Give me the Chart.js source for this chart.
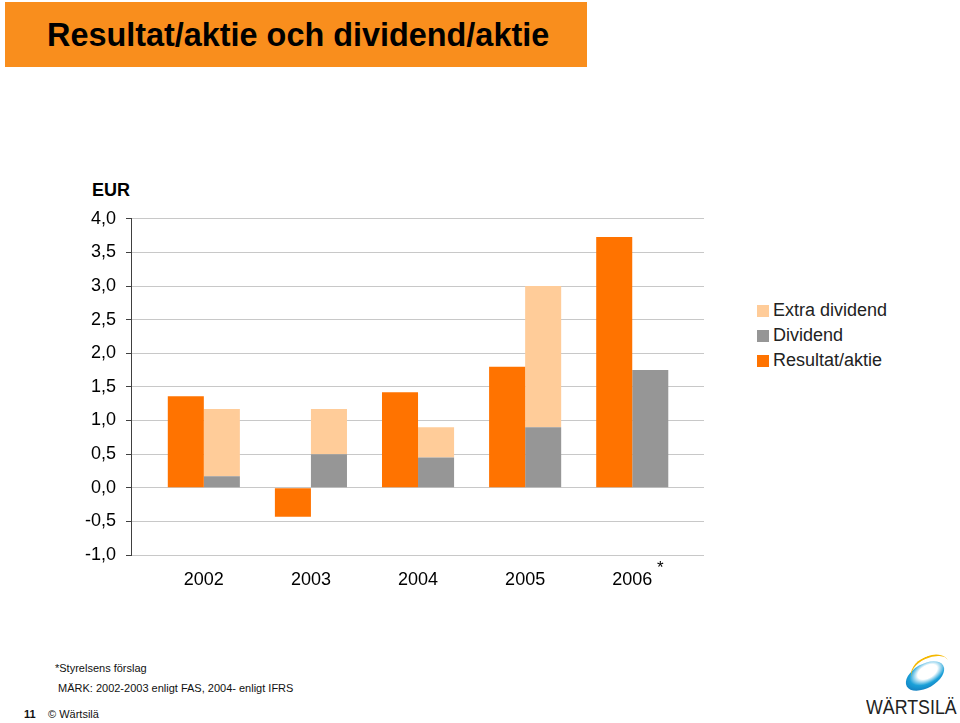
<!DOCTYPE html>
<html>
<head>
<meta charset="utf-8">
<script src="https://cdn.jsdelivr.net/npm/chart.js@4"></script>
<style>
  body { margin: 0; width: 960px; height: 723px; background: #fff; position: relative; overflow: hidden;
         font-family: "Liberation Sans", Arial, sans-serif; }
  .banner { position: absolute; left: 5px; top: 2px; width: 582px; height: 65px; background: #f98e1d; }
  .banner h1 { margin: 0; position: absolute; left: 42px; top: 15px; font-size: 32.4px; font-weight: bold; color: #000; }
  #wrap { position: absolute; left: 0; top: 198px; width: 720px; height: 400px; }
  .eur { position: absolute; left: 92px; top: 180px; font-size: 18px; font-weight: bold; }
  .star { position: absolute; left: 657px; top: 558px; font-size: 17px; }
  .legend { position: absolute; left: 757px; top: 300px; font-size: 18px; color: #222; }
  .legend div { height: 25px; line-height: 20px; }
  .legend span { display: inline-block; width: 12px; height: 12px; margin-right: 4px; vertical-align: -1px; }
  .note { position: absolute; font-size: 11px; color: #111; }
  .logo { position: absolute; left: 866px; top: 696px; font-size: 20px; color: #222;
          transform: scaleX(0.89); transform-origin: left top; }
  .swoosh { position: absolute; left: 904px; top: 664px; width: 42px; height: 24px; border-radius: 50%;
            background: radial-gradient(ellipse at 60% 40%, #fff 30%, #1aa0d8 55%, #0b5ea8 100%);
            transform: rotate(-30deg); }
  .swoosh2 { position: absolute; left: 910px; top: 656px; width: 40px; height: 24px; border-radius: 50%;
             border-top: 2px solid #f5b800; transform: rotate(-25deg); }
</style>
</head>
<body>
<div class="banner"><h1>Resultat/aktie och dividend/aktie</h1></div>
<div class="eur">EUR</div>
<div id="wrap"><canvas id="c" width="720" height="400"></canvas></div>
<div class="star">*</div>
<div class="legend" id="legend"></div>
<div class="note" style="left:55px; top:662px;">*Styrelsens förslag</div>
<div class="note" style="left:58px; top:682px;">MÄRK: 2002-2003 enligt FAS, 2004- enligt IFRS</div>
<div class="note" style="left:24px; top:708px; font-weight:bold;">11</div>
<div class="note" style="left:48px; top:708px;">© Wärtsilä</div>
<div class="swoosh"></div>
<div class="swoosh2"></div>
<div class="logo">WÄRTSILÄ</div>
<script>
const years = ['2002', '2003', '2004', '2005', '2006']
const resultat = [1.36, -0.43, 1.42, 1.80, 3.73]
const dividend = [0.17, 0.50, 0.45, 0.90, 1.75]
const extra = [1.00, 0.67, 0.45, 2.10, 0]

const colResultat = '#ff7300'
const colDividend = '#969696'
const colExtra = '#ffcc99'

const toPoints = arr => arr.map((v, i) => ({ x: i, y: v }))

const datasets = [
    { label: 'Resultat/aktie', data: toPoints(resultat), backgroundColor: colResultat, stack: 'r' },
    { label: 'Dividend', data: toPoints(dividend), backgroundColor: colDividend, stack: 'd' },
    { label: 'Extra dividend', data: toPoints(extra), backgroundColor: colExtra, stack: 'd' }
]

// legend, top to bottom like the slide
const legend = document.getElementById('legend')
datasets.slice().reverse().forEach(ds => {
    const row = document.createElement('div')
    row.innerHTML = '<span style="background:' + ds.backgroundColor + '"></span>' + ds.label
    legend.appendChild(row)
})

Chart.defaults.font.family = '"Liberation Sans", Arial, sans-serif'
Chart.defaults.color = '#000'

new Chart(document.getElementById('c'), {
    type: 'bar',
    data: { datasets: datasets },
    options: {
        responsive: false,
        animation: false,
        categoryPercentage: 0.673,
        barPercentage: 1,
        layout: { padding: { top: 8, right: 16, left: 0, bottom: 0 } },
        plugins: { legend: { display: false }, tooltip: { enabled: false } },
        scales: {
            x: {
                type: 'linear',
                offset: false,
                min: -0.68,
                max: 4.67,
                grid: { display: false, drawTicks: false, offset: false },
                border: { display: false },
                ticks: {
                    autoSkip: false,
                    maxRotation: 0,
                    padding: 14,
                    font: { size: 18 },
                    callback: v => years[v]
                },
                afterBuildTicks: s => { s.ticks = years.map((y, i) => ({ value: i })) },
                afterFit: s => { s.height = 43 }
            },
            y: {
                stacked: true,
                min: -1,
                max: 4,
                grid: { color: '#c8c8c8', tickColor: '#404040', tickLength: 5 },
                border: { color: '#404040', width: 1 },
                ticks: {
                    stepSize: 0.5,
                    padding: 10,
                    font: { size: 18 },
                    callback: v => v.toFixed(1).replace('.', ',')
                },
                afterFit: s => { s.width = 131 }
            }
        }
    }
})
</script>
</body>
</html>
